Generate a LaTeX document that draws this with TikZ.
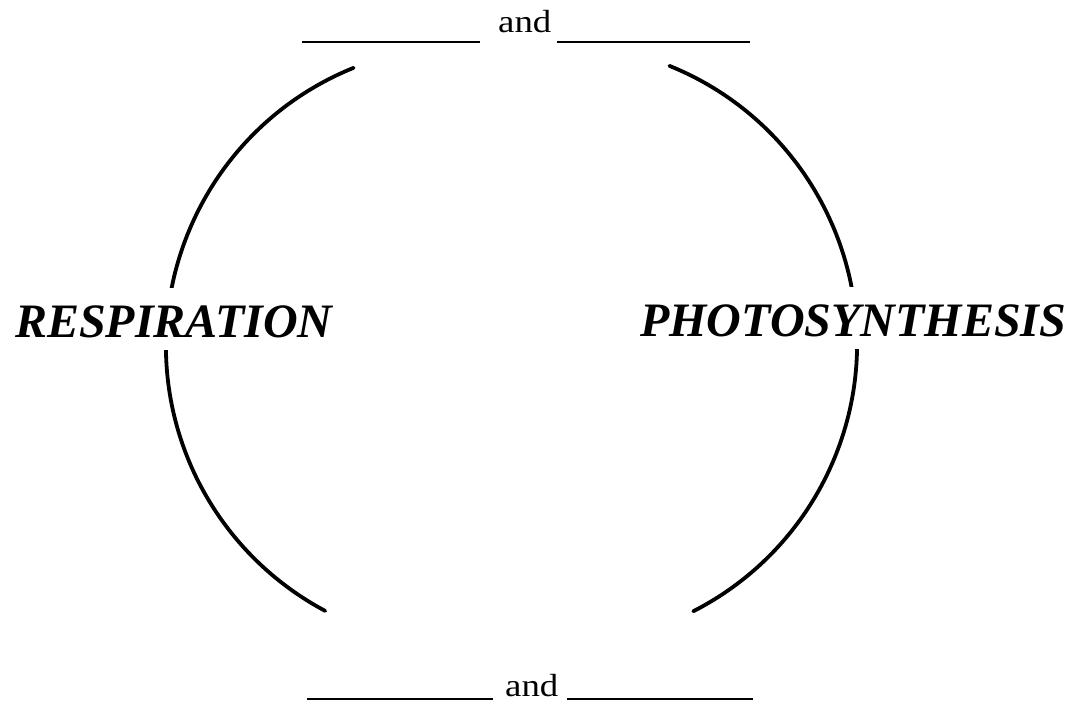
\documentclass[tikz,border=0pt]{standalone}
\usepackage{fontspec}
\setmainfont{Liberation Serif}
\begin{document}
\begin{tikzpicture}[x=1pt,y=1pt,
  arcline/.style={line width=3.8pt, line cap=round},
  blankline/.style={line width=1.6pt},
  cyclelabel/.style={font=\fontsize{48}{48}\selectfont\bfseries\itshape, fill=white, inner sep=0pt, text height=50pt, text depth=12pt, anchor=base west},
  andtext/.style={font=\fontsize{32}{32}\selectfont, inner sep=0pt, anchor=base west, xscale=1.15}]
\useasboundingbox (0,0) rectangle (1078,701);
\fill[white] (0,0) rectangle (1078,701);
\coordinate (Lc) at (466,355);
\coordinate (Rc) at (557,357);
\draw[arcline] ([shift={(112:300)}]Lc) arc[start angle=112, end angle=242, radius=300];
\draw[arcline] ([shift={(68:300)}]Rc) arc[start angle=68, end angle=-63, radius=300];
\node[cyclelabel] (resp) at (15,363) {RESPIRATION};
\node[cyclelabel] (photo) at (640,364) {PHOTOSYNTHESIS};
% top blanks
\node[andtext] (tand) at (498,668) {and};
\coordinate (t1a) at (302,659);
\coordinate (t1b) at (480,659);
\coordinate (t2a) at (557,659);
\coordinate (t2b) at (750,659);
\draw[blankline] (t1a) -- (t1b);
\draw[blankline] (t2a) -- (t2b);
% bottom blanks
\node[andtext] (band) at (505,5) {and};
\coordinate (b1a) at (307,2);
\coordinate (b1b) at (493,2);
\coordinate (b2a) at (567,2);
\coordinate (b2b) at (753,2);
\draw[blankline] (b1a) -- (b1b);
\draw[blankline] (b2a) -- (b2b);
\end{tikzpicture}
\end{document}
